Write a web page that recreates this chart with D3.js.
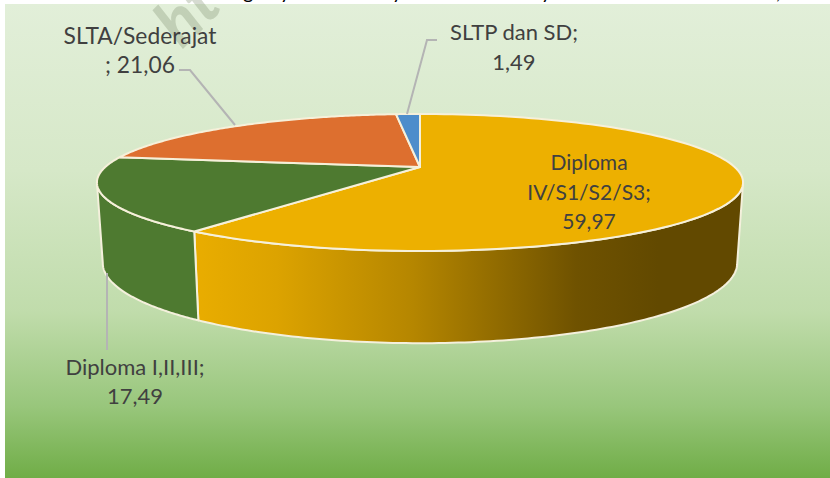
<!DOCTYPE html>
<html>
<head>
<meta charset="utf-8">
<style>
  html, body { margin: 0; padding: 0; background: #fff; overflow: hidden; }
  svg { display: block; }
  text { font-family: Lato, sans-serif; }
</style>
<script src="https://cdn.jsdelivr.net/npm/d3@7"></script>
</head>
<body>
<div id="chart"></div>
<script>
const categories = ["Diploma IV/S1/S2/S3", "Diploma I,II,III", "SLTA/Sederajat", "SLTP dan SD"];
const values = [59.97, 17.49, 21.06, 1.49];
const valueLabels = ["59,97", "17,49", "21,06", "1,49"];
const colors = ["#edb000", "#4e7a30", "#dd6f2f", "#4d8dcb"];
const titleScraps = ["g", "y", "y", "y", ","];

const width = 830;
const height = 478;

const svg = d3.select("#chart").append("svg").attr("width", width).attr("height", height);
const defs = svg.append("defs");

const bg = defs.append("linearGradient").attr("id", "bg").attr("x1", 0).attr("y1", 0).attr("x2", 0).attr("y2", 1);
[[0, "#e2efd9"], [0.35, "#d6e8c8"], [0.65, "#c0dcab"], [0.85, "#98c67b"], [1, "#70ad47"]].forEach((s) => {
  bg.append("stop").attr("offset", s[0]).attr("stop-color", s[1]);
});

// yellow wall goes dark towards the right
const wall = defs.append("linearGradient").attr("id", "wall")
  .attr("gradientUnits", "userSpaceOnUse").attr("x1", 195).attr("y1", 0).attr("x2", 740).attr("y2", 0);
[[0, "#e9ad00"], [0.15, "#dca300"], [0.4, "#b58600"], [0.7, "#6f5200"], [0.85, "#624900"], [1, "#624900"]].forEach((s) => {
  wall.append("stop").attr("offset", s[0]).attr("stop-color", s[1]);
});

svg.append("rect").attr("x", 5).attr("y", 4).attr("width", width - 5).attr("height", height - 4).attr("fill", "url(#bg)");

// leftovers of the cropped title and watermark
svg.selectAll(".scrap").data(titleScraps).enter().append("text")
  .attr("x", (d, i) => [243, 280, 392, 541, 776][i])
  .attr("y", -1)
  .attr("font-size", 20)
  .attr("fill", "#000")
  .text((d) => d);

svg.append("text")
  .attr("transform", "translate(182,50) rotate(-45)")
  .attr("font-size", 66)
  .attr("font-weight", 700)
  .attr("font-style", "italic")
  .attr("fill", "#7f8f70")
  .attr("fill-opacity", 0.32)
  .text("ht");

// perspective of a flat disc: pie angle -> point on the screen
function disc(cy, a, b, k) {
  return (t) => {
    const u = Math.sin(t);
    const v = -Math.cos(t);
    const w = 1 - k * v;
    return [420 + (a * u) / w, cy + (b * v) / w];
  };
}
const top3d = disc(167, 314.7, 65, 0.226);
const bottom3d = disc(245, 309, 76, 0.226);

const slices = d3.pie().sort(null).value((d) => d)(values);
const line = d3.line();

function sweep(f, a0, a1) {
  return d3.range(0, 121).map((i) => f(a0 + ((a1 - a0) * i) / 120));
}

// the walls, only the part that faces the viewer
const rightEdge = Math.acos(-0.226);
const leftEdge = 2 * Math.PI - rightEdge;

svg.selectAll(".side").data(slices.slice(0, 2)).enter().append("path")
  .attr("d", (d, i) => {
    const a0 = i === 0 ? rightEdge : d.startAngle;
    const a1 = i === 0 ? d.endAngle : leftEdge;
    return line(sweep(top3d, a0, a1).concat(sweep(bottom3d, a1, a0))) + "Z";
  })
  .attr("fill", (d, i) => (i === 0 ? "url(#wall)" : colors[i]))
  .attr("stroke", "#f4f0dc")
  .attr("stroke-width", 2)
  .attr("stroke-linejoin", "round");

// top of the pie
svg.selectAll(".slice").data(slices).enter().append("path")
  .attr("d", (d) => line([[420, 167]].concat(sweep(top3d, d.startAngle, d.endAngle))) + "Z")
  .attr("fill", (d, i) => colors[i])
  .attr("stroke", "#f6f0da")
  .attr("stroke-width", 2)
  .attr("stroke-linejoin", "round");

// leader lines
const leaders = [
  [[179, 70], [190, 70], [235, 125]],
  [[437, 40], [427, 40], [407, 114]],
  [[107, 273], [107, 350]]
];
svg.selectAll(".leader").data(leaders).enter().append("path")
  .attr("d", (d) => line(d))
  .attr("fill", "none")
  .attr("stroke", "#b4b4b4")
  .attr("stroke-width", 2);

const labels = [
  { x: 589, size: 21, lines: ["Diploma", "IV/S1/S2/S3;", valueLabels[0]], y: [170, 200, 229] },
  { x: 135, size: 22, lines: [categories[1] + ";", valueLabels[1]], y: [375, 404] },
  { x: 140, size: 22.8, lines: [categories[2], "; " + valueLabels[2]], y: [44, 73] },
  { x: 514, size: 22, lines: [categories[3] + ";", valueLabels[3]], y: [40, 70] }
];
labels.forEach((l) => {
  l.lines.forEach((t, i) => {
    svg.append("text")
      .attr("x", l.x)
      .attr("y", l.y[i])
      .attr("text-anchor", "middle")
      .attr("font-size", l.size)
      .attr("fill", "#404040")
      .text(t);
  });
});
</script>
</body>
</html>
